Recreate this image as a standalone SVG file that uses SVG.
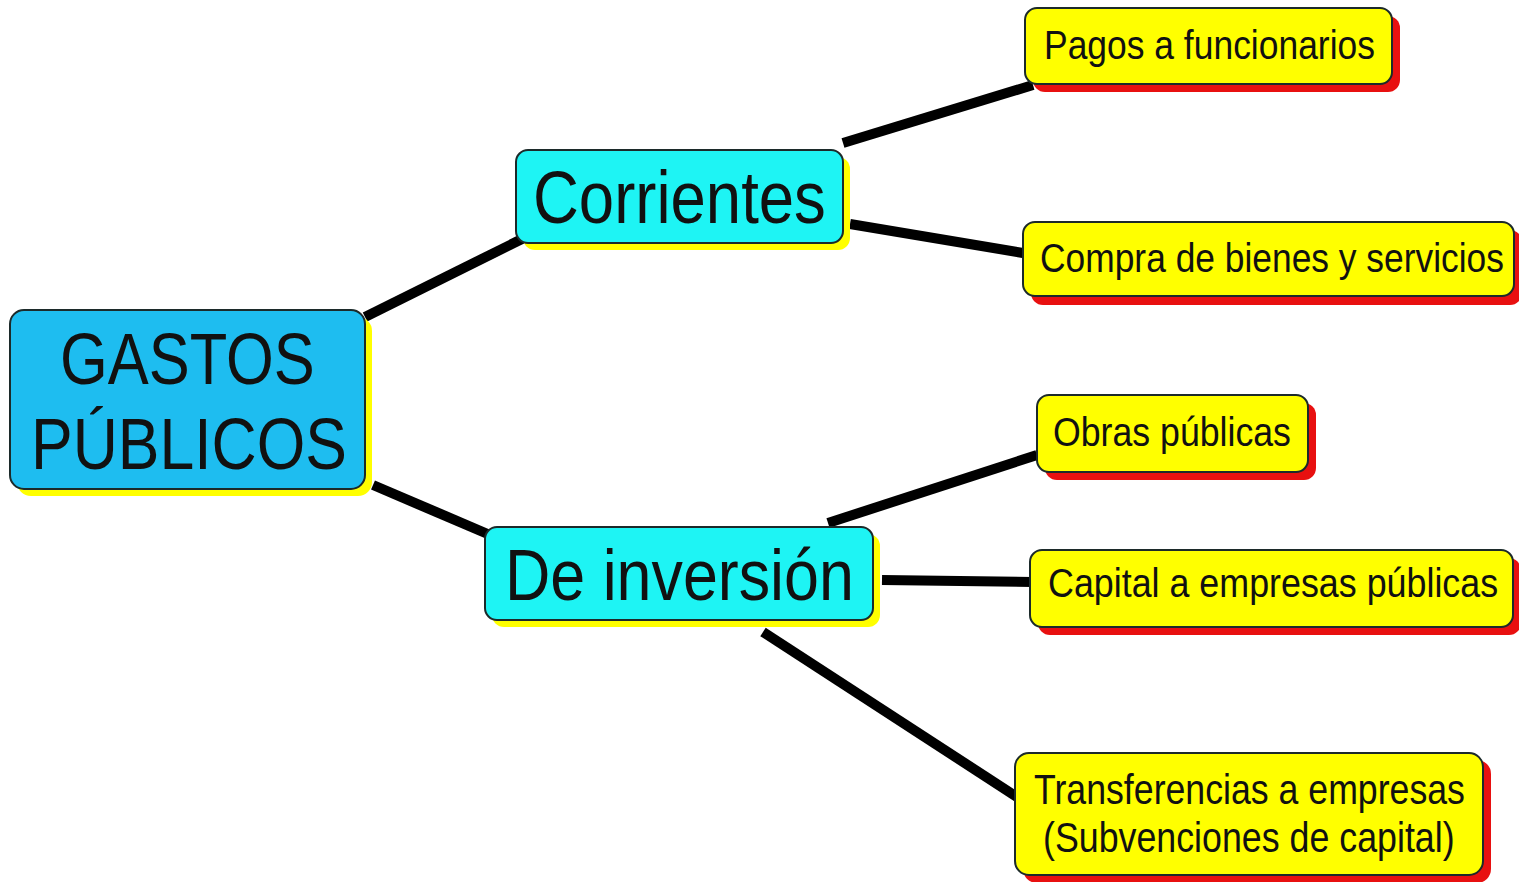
<svg xmlns="http://www.w3.org/2000/svg" width="1519" height="882" viewBox="0 0 1519 882">
<style>
.t{font-family:"Liberation Sans",Arial,sans-serif;fill:#111;}
.box{stroke:#1c2a2a;stroke-width:2;}
.root{fill:#1EBDF0;}
.mid{fill:#1EF4F4;}
.leaf{fill:#FFFF00;}
.ys{fill:#FFFF00;}
.rs{fill:#E81010;}
.con{stroke:#000;stroke-width:10;fill:none;}
</style>
<rect width="1519" height="882" fill="#fff"/>
<g id="connectors">
<line class="con" x1="365" y1="317" x2="522" y2="239"/>
<line class="con" x1="373" y1="485" x2="490" y2="535"/>
<line class="con" x1="843" y1="143" x2="1033" y2="85"/>
<line class="con" x1="850" y1="224" x2="1023" y2="253"/>
<line class="con" x1="828" y1="523" x2="1037" y2="455"/>
<line class="con" x1="882" y1="580" x2="1032" y2="582"/>
<line class="con" x1="763" y1="632" x2="1017" y2="797"/>
</g>
<g id="gastos">
<rect class="ys" x="17" y="317" width="355" height="179" rx="14"/>
<rect class="box root" x="10" y="310" width="355" height="179" rx="14"/>
<text class="t" transform="translate(60,384) scale(0.853,1)" font-size="72">GASTOS</text>
<text class="t" transform="translate(31,469) scale(0.868,1)" font-size="72">PÚBLICOS</text>
</g>
<g id="corrientes">
<rect class="ys" x="523" y="157" width="327" height="93" rx="12"/>
<rect class="box mid" x="516" y="150" width="327" height="93" rx="12"/>
<text class="t" transform="translate(533,223) scale(0.858,1)" font-size="74">Corrientes</text>
</g>
<g id="inversion">
<rect class="ys" x="492" y="534" width="388" height="93" rx="12"/>
<rect class="box mid" x="485" y="527" width="388" height="93" rx="12"/>
<text class="t" transform="translate(505,600) scale(0.872,1)" font-size="72">De inversión</text>
</g>
<g id="pagos">
<rect class="rs" x="1033" y="16" width="367" height="76" rx="12"/>
<rect class="box leaf" x="1025" y="8" width="367" height="76" rx="12"/>
<text class="t" transform="translate(1044,59) scale(0.8645,1)" font-size="41">Pagos a funcionarios</text>
</g>
<g id="compra">
<rect class="rs" x="1031" y="230" width="491" height="75" rx="12"/>
<rect class="box leaf" x="1023" y="222" width="491" height="74" rx="12"/>
<text class="t" transform="translate(1040,272) scale(0.863,1)" font-size="41">Compra de bienes y servicios</text>
</g>
<g id="obras">
<rect class="rs" x="1045" y="403" width="271" height="77" rx="12"/>
<rect class="box leaf" x="1037" y="395" width="271" height="77" rx="12"/>
<text class="t" transform="translate(1053,446) scale(0.8705,1)" font-size="41">Obras públicas</text>
</g>
<g id="capital">
<rect class="rs" x="1038" y="558" width="483" height="77" rx="12"/>
<rect class="box leaf" x="1030" y="550" width="483" height="77" rx="12"/>
<text class="t" transform="translate(1048,597) scale(0.874,1)" font-size="41">Capital a empresas públicas</text>
</g>
<g id="transferencias">
<rect class="rs" x="1023" y="760" width="468" height="123" rx="14"/>
<rect class="box leaf" x="1015" y="753" width="468" height="122" rx="14"/>
<text class="t" transform="translate(1034,804) scale(0.83,1)" font-size="43">Transferencias a empresas</text>
<text class="t" transform="translate(1043,852) scale(0.832,1)" font-size="43">(Subvenciones de capital)</text>
</g>
</svg>
